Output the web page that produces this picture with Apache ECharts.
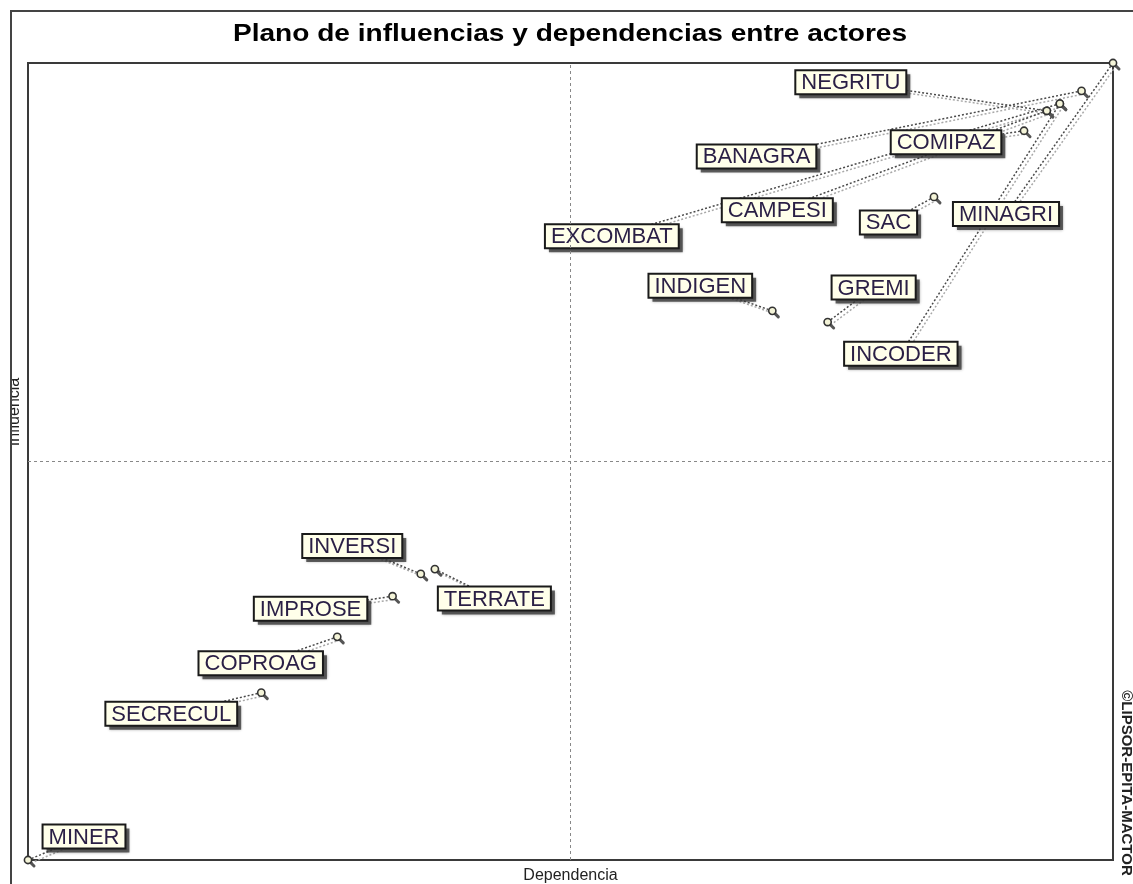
<!DOCTYPE html>
<html><head><meta charset="utf-8">
<script src="https://cdn.jsdelivr.net/npm/echarts@6/dist/echarts.min.js"></script>
<style>html,body{margin:0;padding:0;background:#fff}#chart{width:1133px;height:884px}</style>
</head><body><div id="chart"></div>
<script>
// ---- data ----
const chartTitle = 'Plano de influencias y dependencias entre actores';
const xName = 'Dependencia';
const yName = 'Influencia';
const watermark = '©LIPSOR-EPITA-MACTOR';
const actors      = ['MINAGRI','BANAGRA','INCODER','NEGRITU','EXCOMBAT','CAMPESI','COMIPAZ','SAC','GREMI','INDIGEN','TERRATE','INVERSI','IMPROSE','COPROAG','SECRECUL','MINER'];
const dependencia = [100, 97.1, 95.1, 93.9, 95.1, 93.9, 91.8, 83.5, 73.7, 68.6, 37.5, 36.2, 33.6, 28.5, 21.5, 0];
const influencia  = [100, 96.5, 94.9, 94.0, 94.9, 94.0, 91.5, 83.2, 67.5, 68.9, 36.5, 35.9, 33.1, 28.0, 21.0, 0];
const axisMin = 0, axisMax = 100, axisMid = 50;

// ---- layout (label box offsets from point, px) ----
const labelOffsets = [[-107,151],[-325,65.5],[-159,250],[-196,-28.5],[-448,132.5],[-269.5,99.5],[-78,11.5],[-45.5,25.5],[46,-34.5],[-72,-25],[59.5,29.5],[-68.5,-28],[-82,12.5],[-76.5,26.5],[-90,21],[56,-23.5]];

const FF = '"Liberation Sans", Arial, sans-serif';
const FONT = '22px ' + FF;
const mctx = document.createElement('canvas').getContext('2d');
mctx.font = FONT;

const data = actors.map((a, i) => [dependencia[i], influencia[i], i]);

function renderItem(params, api) {
  const i = api.value(2);
  const p = api.coord([api.value(0), api.value(1)]);
  const off = labelOffsets[i];
  const cx = p[0] + off[0], cy = p[1] + off[1];
  const w = mctx.measureText(actors[i]).width + 12, h = 24;
  return {
    type: 'group',
    children: [
      {type:'line', z2:1, shape:{x1:p[0]+3,y1:p[1]+3,x2:cx+3,y2:cy+3}, style:{stroke:'#a8a8a8', lineWidth:1.5, lineDash:[2,2]}},
      {type:'line', z2:2, shape:{x1:p[0],y1:p[1],x2:cx,y2:cy}, style:{stroke:'#4a4a4a', lineWidth:1.5, lineDash:[2,2]}},
      {type:'line', z2:3, shape:{x1:p[0]+2,y1:p[1]+2,x2:p[0]+6,y2:p[1]+6}, style:{stroke:'#555', lineWidth:3, lineCap:'round'}},
      {type:'circle', z2:4, shape:{cx:p[0], cy:p[1], r:3.6}, style:{fill:'#f4f4d8', stroke:'#333', lineWidth:1.6}},
      {type:'rect', z2:9, shape:{x:cx-w/2+4, y:cy-h/2+4, width:w, height:h}, style:{fill:'rgba(60,60,60,0.8)', shadowBlur:3, shadowColor:'rgba(0,0,0,0.5)'}},
      {type:'rect', z2:10, shape:{x:cx-w/2, y:cy-h/2, width:w, height:h}, style:{fill:'#ffffea', stroke:'#1a1a1a', lineWidth:2}},
      {type:'text', z2:11, style:{text:actors[i], x:cx, y:cy+1, align:'center', verticalAlign:'middle', font:FONT, fill:'#2a1f45'}}
    ]
  };
}

const chart = echarts.init(document.getElementById('chart'), null, {renderer:'canvas'});
chart.setOption({
  animation: false,
  backgroundColor: '#fff',
  grid: {left: 28, top: 63, right: 20, bottom: 24, outerBoundsMode: 'none', containLabel: false, show: true, borderColor: '#3a3a3a', borderWidth: 2, backgroundColor: '#fff'},
  xAxis: {type:'value', min:axisMin, max:axisMax, interval:50, axisLine:{show:false}, axisTick:{show:false}, axisLabel:{show:false}, splitLine:{show:false},
    name: xName, nameLocation:'middle', nameGap:8, nameTextStyle:{fontSize:16, color:'#222', fontFamily:FF, verticalAlign:'top'}},
  yAxis: {type:'value', min:axisMin, max:axisMax, interval:50, axisLine:{show:false}, axisTick:{show:false}, axisLabel:{show:false}, splitLine:{show:false}},
  graphic: [
    {type:'text', z:99, x:15, y:412, rotation:Math.PI/2, style:{text:yName, align:'center', verticalAlign:'middle', font:'16px ' + FF, fill:'#222'}},
    {type:'rect', z:100, shape:{x:0,y:0,width:11,height:884}, style:{fill:'#fff'}},
    {type:'line', z:101, shape:{x1:10,y1:11,x2:1133,y2:11}, style:{stroke:'#444', lineWidth:2}},
    {type:'line', z:101, shape:{x1:11,y1:11,x2:11,y2:884}, style:{stroke:'#444', lineWidth:2}},
    {type:'text', z:101, x:570, y:34, scaleX:1.17, style:{text:chartTitle, align:'center', verticalAlign:'middle', font:'bold 24px ' + FF, fill:'#000'}},
    {type:'text', z:101, x:1126, y:783, rotation:-Math.PI/2, style:{text:watermark, align:'center', verticalAlign:'middle', font:'bold 15px ' + FF, fill:'#222'}}
  ],
  series: [
    {type:'line', data:[], silent:true, markLine:{silent:true, symbol:'none', label:{show:false}, lineStyle:{type:[3,3], color:'#888', width:1}, data:[{xAxis:axisMid},{yAxis:axisMid}]}},
    {type:'custom', renderItem: renderItem, data: data, clip: false, encode:{x:0, y:1}}
  ]
});
</script>
</body></html>
